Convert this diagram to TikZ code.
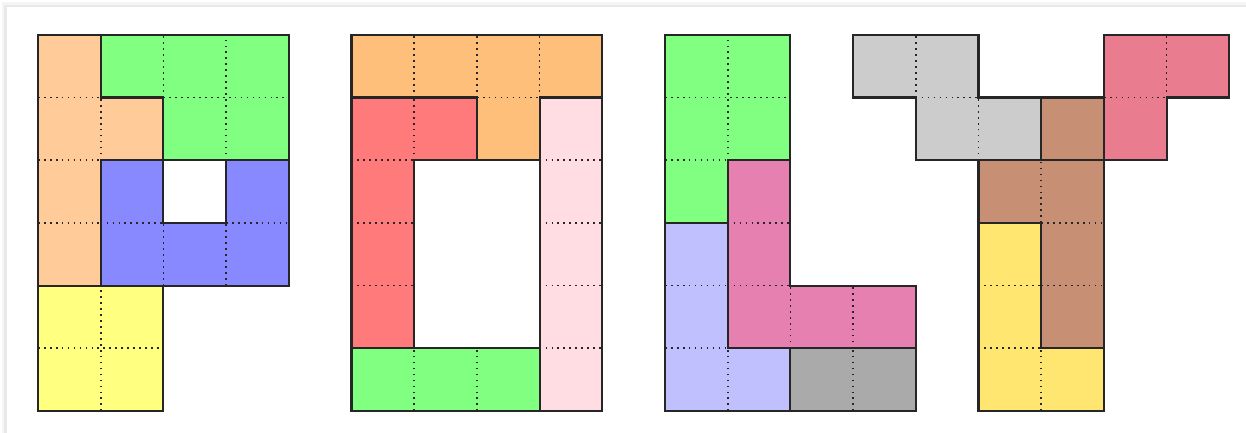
\documentclass[tikz,border=0pt]{standalone}
\definecolor{pOrange}{RGB}{255,204,153}
\definecolor{pGreen}{RGB}{128,255,128}
\definecolor{pBlue}{RGB}{136,136,255}
\definecolor{pYellow}{RGB}{255,255,128}
\definecolor{oOrange}{RGB}{253,191,122}
\definecolor{oRed}{RGB}{255,122,122}
\definecolor{oPink}{RGB}{255,221,227}
\definecolor{lMagenta}{RGB}{230,128,176}
\definecolor{lLavender}{RGB}{192,192,255}
\definecolor{lGray}{RGB}{170,170,170}
\definecolor{yGray}{RGB}{204,204,204}
\definecolor{yBrown}{RGB}{199,143,116}
\definecolor{yPink}{RGB}{234,124,144}
\definecolor{yYellow}{RGB}{255,230,112}
\begin{document}
\begin{tikzpicture}[x=1cm,y=1cm,
  outline/.style={draw=black!85,line width=0.95pt,line join=miter},
  cellgrid/.style={draw=black!85,line width=0.75pt,dash pattern=on 0.75pt off 1.95pt}]
\useasboundingbox (-0.606,-0.335) rectangle (19.266,6.555);
% card shadow
\draw[black!4,line width=2.4pt] (-0.535,-0.4) -- (-0.535,6.48) -- (19.4,6.48);
\draw[black!9,line width=1.2pt] (-0.515,-0.4) -- (-0.515,6.46) -- (19.4,6.46);
\fill[white] (-0.494,-0.4) rectangle (19.4,6.443);
% piece shapes
\def\PA{(0,2)--(1,2)--(1,4)--(2,4)--(2,5)--(1,5)--(1,6)--(0,6)--cycle}
\def\PB{(1,6)--(4,6)--(4,4)--(2,4)--(2,5)--(1,5)--cycle}
\def\PC{(1,2)--(4,2)--(4,4)--(3,4)--(3,3)--(2,3)--(2,4)--(1,4)--cycle}
\def\PD{(0,0)--(2,0)--(2,2)--(0,2)--cycle}
\def\OA{(5,6)--(9,6)--(9,5)--(8,5)--(8,4)--(7,4)--(7,5)--(5,5)--cycle}
\def\OB{(5,1)--(6,1)--(6,4)--(7,4)--(7,5)--(5,5)--cycle}
\def\OC{(8,0)--(9,0)--(9,5)--(8,5)--cycle}
\def\OD{(5,0)--(8,0)--(8,1)--(5,1)--cycle}
\def\LA{(10,3)--(11,3)--(11,4)--(12,4)--(12,6)--(10,6)--cycle}
\def\LB{(11,1)--(14,1)--(14,2)--(12,2)--(12,4)--(11,4)--cycle}
\def\LC{(10,0)--(12,0)--(12,1)--(11,1)--(11,3)--(10,3)--cycle}
\def\LD{(12,0)--(14,0)--(14,1)--(12,1)--cycle}
\def\YA{(13,6)--(15,6)--(15,5)--(17,5)--(17,4)--(14,4)--(14,5)--(13,5)--cycle}
\def\YB{(15,3)--(16,3)--(16,1)--(17,1)--(17,5)--(16,5)--(16,4)--(15,4)--cycle}
\def\YC{(17,4)--(18,4)--(18,5)--(19,5)--(19,6)--(17,6)--cycle}
\def\YD{(15,0)--(17,0)--(17,1)--(16,1)--(16,3)--(15,3)--cycle}
% fills
\fill[pOrange] \PA; \fill[pGreen] \PB; \fill[pBlue] \PC; \fill[pYellow] \PD;
\fill[oOrange] \OA; \fill[oRed] \OB; \fill[oPink] \OC; \fill[pGreen] \OD;
\fill[pGreen] \LA; \fill[lMagenta] \LB; \fill[lLavender] \LC; \fill[lGray] \LD;
\fill[yGray] \YA; \fill[yBrown] \YB; \fill[yPink] \YC; \fill[yYellow] \YD;
% inner cell edges
\path[cellgrid]
  (0,5)--(1,5) (0,4)--(1,4) (0,3)--(1,3) (1,4)--(1,5)
  (2,5)--(2,6) (3,4)--(3,6) (2,5)--(4,5)
  (1,3)--(2,3) (2,2)--(2,3) (3,2)--(3,3) (3,3)--(4,3)
  (1,0)--(1,2) (0,1)--(2,1)
  (6,5)--(6,6) (7,5)--(7,6) (8,5)--(8,6) (7,5)--(8,5)
  (6,4)--(6,5) (5,4)--(6,4) (5,3)--(6,3) (5,2)--(6,2)
  (8,1)--(9,1) (8,2)--(9,2) (8,3)--(9,3) (8,4)--(9,4)
  (6,0)--(6,1) (7,0)--(7,1)
  (11,4)--(11,6) (10,5)--(12,5) (10,4)--(11,4)
  (11,3)--(12,3) (11,2)--(12,2) (12,1)--(12,2) (13,1)--(13,2)
  (10,2)--(11,2) (10,1)--(11,1) (11,0)--(11,1)
  (13,0)--(13,1)
  (14,5)--(14,6) (14,5)--(15,5) (15,4)--(15,5)
  (16,3)--(16,4) (16,4)--(17,4) (16,3)--(17,3) (16,2)--(17,2)
  (18,5)--(18,6) (17,5)--(18,5)
  (15,2)--(16,2) (15,1)--(16,1) (16,0)--(16,1);
% outlines
\path[outline] \PA; \path[outline] \PB; \path[outline] \PC; \path[outline] \PD;
\path[outline] \OA; \path[outline] \OB; \path[outline] \OC; \path[outline] \OD;
\path[outline] \LA; \path[outline] \LB; \path[outline] \LC; \path[outline] \LD;
\path[outline] \YA; \path[outline] \YB; \path[outline] \YC; \path[outline] \YD;
\end{tikzpicture}
\end{document}
